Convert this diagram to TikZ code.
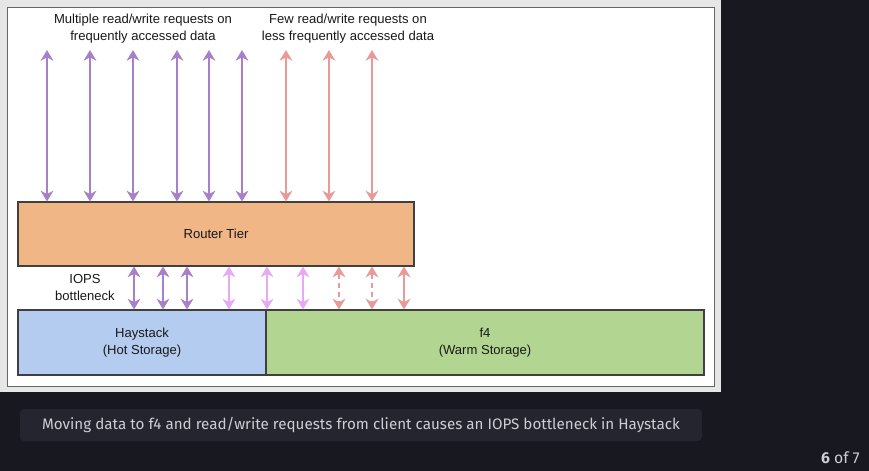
\documentclass[tikz,border=0pt]{standalone}
\usepackage{fontspec}
\setmainfont{Liberation Sans}
\newfontfamily\capfont{Fira Sans}
\usetikzlibrary{arrows.meta}

\definecolor{bgdark}{RGB}{24,24,32}
\definecolor{capfill}{RGB}{36,37,47}
\definecolor{captext}{RGB}{205,205,212}
\definecolor{frame}{RGB}{230,230,230}
\definecolor{boxline}{RGB}{64,64,64}
\definecolor{routerfill}{RGB}{240,182,133}
\definecolor{hotfill}{RGB}{180,204,240}
\definecolor{warmfill}{RGB}{178,214,145}
\definecolor{heavy}{RGB}{166,128,200}
\definecolor{light}{RGB}{232,168,246}
\definecolor{few}{RGB}{234,153,153}

\tikzset{
  tier/.style={draw=boxline, line width=0.8pt, inner sep=0pt, align=center, minimum height=48.75pt,
    font=\fontsize{9.8}{12.75}\selectfont, text=black!90},
  label/.style={inner sep=0.75pt, align=center, font=\fontsize{9.8}{12.75}\selectfont, text=black!90},
  req/.style={line width=1.6pt, {Stealth[length=8pt,width=9.5pt,inset=2.5pt]}-{Stealth[length=8pt,width=9.5pt,inset=2.5pt]}},
}

\begin{document}
\begin{tikzpicture}[x=0.75pt,y=0.75pt,yscale=-1,xscale=1]
\useasboundingbox (0,0) rectangle (869,471);
%Background
\fill[bgdark] (0,0) rectangle (869,471);
%Shape: Rectangle (panel)
\fill[frame] (0,0) rectangle (721,392);
\draw[fill=white, draw=boxline!80, line width=0.75pt] (7,7) rectangle (714,386);

%Boxes
\node[tier, fill=routerfill, minimum width=297pt, minimum height=48pt] (router) at (216,234) {Router Tier};
\node[tier, fill=hotfill, minimum width=186pt] (haystack) at (142,342.5) {Haystack\\(Hot Storage)};
\node[tier, fill=warmfill, minimum width=328.5pt] (ffour) at (485,342.5) {f4\\(Warm Storage)};

%Requests from clients
\foreach \x [count=\i] in {47,90,133,177,209,242} {
  \coordinate (hot-\i) at (\x,50);
  \draw[req, heavy] (hot-\i) -- (hot-\i |- router.north);
}
\foreach \x [count=\i] in {286,329,372} {
  \coordinate (cold-\i) at (\x,50);
  \draw[req, few] (cold-\i) -- (cold-\i |- router.north);
}

%Requests from router to storage
\foreach \x [count=\i] in {134,163,187} {
  \coordinate (io-\i) at (\x,288);
  \draw[req, heavy, line width=2.2pt] (io-\i |- router.south) -- (io-\i |- haystack.north);
}
\foreach \x [count=\i] in {229,267,303} {
  \coordinate (mv-\i) at (\x,288);
  \draw[req, light] (mv-\i |- router.south) -- (mv-\i |- haystack.north);
}
\foreach \x [count=\i] in {339,372} {
  \coordinate (dash-\i) at (\x,288);
  \draw[req, few, dash pattern=on 4pt off 3pt] (dash-\i |- router.south) -- (dash-\i |- ffour.north);
}
\coordinate (warm-1) at (404,288);
\draw[req, few] (warm-1 |- router.south) -- (warm-1 |- ffour.north);

% Text Node
\node[label] (multi) at (143,28.5) {Multiple read/write requests on\\frequently accessed data};
% Text Node
\node[label] (fewreq) at (348,28.5) {Few read/write requests on\\less frequently accessed data};
% Text Node
\node[label] (iops) at (85,287.5) {IOPS\\bottleneck};

%Caption
\fill[capfill, rounded corners=3pt] (20,409) rectangle (702,441);
\node[inner sep=0pt, text=captext, font=\capfont\fontsize{11.4}{13}\selectfont] (caption) at (361,425)
  {Moving data to f4 and read/write requests from client causes an IOPS bottleneck in Haystack};
\node[inner sep=0pt, anchor=east, text=captext, font=\capfont\fontsize{11.8}{13}\selectfont] (pager) at (860,458)
  {\textbf{6} of 7};
\end{tikzpicture}
\end{document}
